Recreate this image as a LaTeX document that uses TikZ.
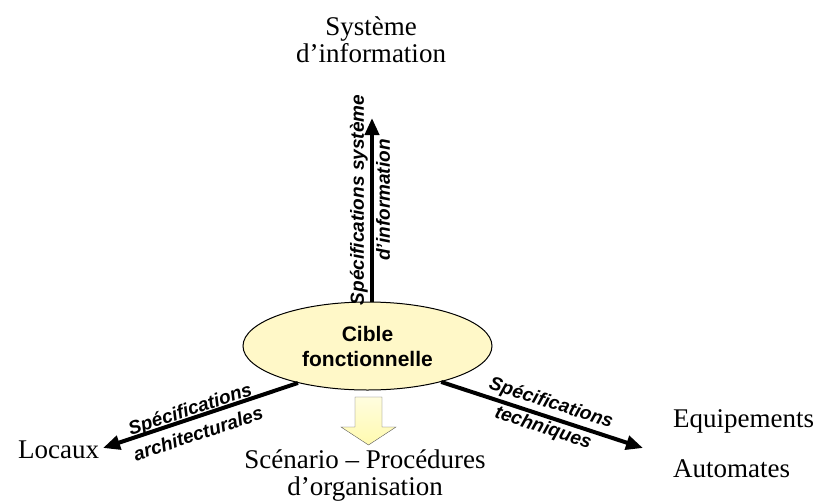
\documentclass[tikz,border=0pt]{standalone}
\usepackage{fontspec}
\setmainfont{Liberation Serif}
\newfontfamily\arialfont{Liberation Sans}
\usetikzlibrary{arrows.meta, shapes.geometric}
\definecolor{cibleyellow}{RGB}{255,248,200}
\definecolor{flecheyellow}{RGB}{255,250,175}
\tikzset{
	spec/.style={-{Triangle[length=17pt,width=14pt]}, line width=4pt}, % the thick black arrows
	speclabel/.style={align=center, inner sep=0pt, font=\arialfont\bfseries\itshape\fontsize{19}{26}\selectfont},
	domaine/.style={inner sep=0pt, font=\fontsize{27}{27}\selectfont},
}
\begin{document}
\begin{tikzpicture}[x=1pt, y=-1pt]
			\useasboundingbox (0,0) rectangle (820,501);
			% Central target
			\node[ellipse, draw, line width=1pt, fill=cibleyellow, minimum width=249pt, minimum height=88pt, inner sep=0pt, align=center,
				font=\arialfont\bfseries\fontsize{21}{25}\selectfont] (cible) at (367.5,346) {Cible\\fonctionnelle};
			
			% Domains
			\node[domaine, align=center] (si) at (371,40) {Système\\d’information};
			\node[domaine, anchor=base west] (locaux) at (18,458) {Locaux};
			\node[domaine, anchor=base west] (equip) at (673,427) {Equipements};
			\node[domaine, anchor=base west] (autom) at (673,477) {Automates};
			\node[domaine, align=center] (scen) at (365,476) {Scénario – Procédures\\d’organisation};
			
			% Arrow tips
			\coordinate (siTip) at (372,118);
			\coordinate (locauxTip) at (103,448);
			\coordinate (equipTip) at (643,448);
			
			% Specifications
			\draw[spec] (cible.north -| siTip) -- (siTip);
			\draw[spec] (cible.208) -- (locauxTip);
			\draw[spec] (cible.334) -- (equipTip);
			\node[speclabel, rotate=90] (specSI) at (370,200) {Spécifications système\\d’information};
			\node[speclabel, rotate=18.3] (specArchi) at (194,421) {Spécifications\\architecturales};
			\node[speclabel, rotate=-17.8] (specTech) at (547,416) {Spécifications\\techniques};
			
			% Down arrow to scenarios
			\draw[gray!70!black, top color=white!60!flecheyellow, bottom color=flecheyellow]
			(355,397) -- (382,397) -- (382,427) -- (396,427) -- (368.5,445) -- (341,427) -- (355,427) -- cycle;
		\end{tikzpicture}
\end{document}
